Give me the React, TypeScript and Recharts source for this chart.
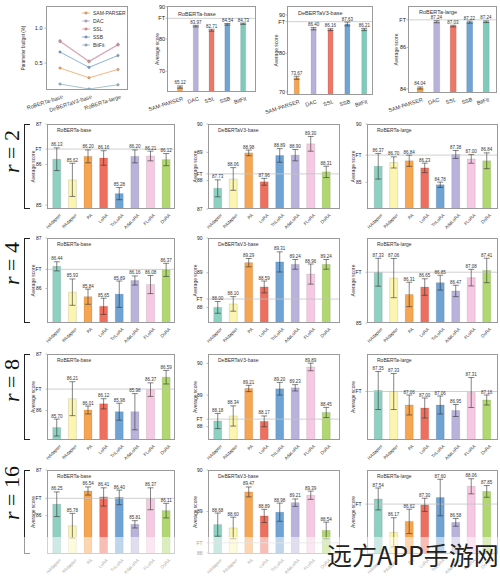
import {
  Bar, Cell, ComposedChart, ErrorBar, LabelList, Line, LineChart, ReferenceLine, XAxis, YAxis,
} from 'recharts'

const FONT = '"Liberation Sans", Arial, sans-serif'

// parameter budget (%)
const BACKBONES = ['RoBERTa-base', 'DeBERTaV3-base', 'RoBERTa-large']
const BUDGET_METHODS = ['SAM-PARSER', 'DAC', 'SSL', 'SSB', 'BitFit']
const BUDGET_COLORS = ['#f3a35a', '#b9a6d6', '#ee8f8f', '#6f9fd0', '#93b4c4']
const budgetSamParser = [0.43, 0.29, 0.41]
const budgetDac = [0.82, 0.53, 0.77]
const budgetSsl = [0.81, 0.52, 0.76]
const budgetSsb = [0.66, 0.44, 0.61]
const budgetBitFit = [0.20, 0.13, 0.19]

// top row bar panels
const TOP_COLORS = ['#f5a54f', '#b8b1db', '#ee7868', '#70a4d4', '#7fcbbb']
const topRobertaBase = [65.12, 83.97, 82.71, 84.54, 84.73]
const topRobertaBaseErr = [0.35, 0.25, 0.3, 0.25, 0.2]
const topDebertaBase = [73.67, 86.40, 86.16, 87.63, 86.21]
const topDebertaBaseErr = [0.4, 0.3, 0.25, 0.5, 0.3]
const topRobertaLarge = [84.04, 87.24, 87.03, 87.22, 87.24]
const topRobertaLargeErr = [0.05, 0.05, 0.04, 0.05, 0.04]

const FT_RB = 86.38
const FT_DB = 88.24
const FT_RL = 87.33

// rank rows
const METHODS = ['HAdapter', 'PAdapter', 'PA', 'LoRA', 'TriLoRA', 'AdaLoRA', 'FLoRA', 'DoRA']
const METHOD_COLORS = ['#8ed1c2', '#fbf5b0', '#f6a550', '#ef6f5e', '#6fa3d4', '#b9b3dc', '#f6c8e1', '#b0d86e']

const r2RobertaBase = [86.13, 85.62, 86.20, 86.16, 85.28, 86.20, 86.21, 86.12]
const r2RobertaBaseErr = [0.28, 0.41, 0.16, 0.18, 0.15, 0.16, 0.12, 0.15]
const r2DebertaBase = [87.73, 88.06, 88.98, 87.96, 88.89, 88.90, 89.30, 88.31]
const r2DebertaBaseErr = [0.3, 0.4, 0.1, 0.12, 0.24, 0.2, 0.26, 0.2]
const r2RobertaLarge = [86.37, 86.70, 86.84, 86.23, 84.78, 87.38, 87.00, 86.84]
const r2RobertaLargeErr = [1.1, 0.48, 0.48, 0.41, 0.23, 0.34, 0.37, 0.68]

const r4RobertaBase = [86.44, 85.93, 85.84, 85.65, 85.89, 86.16, 86.08, 86.37]
const r4RobertaBaseErr = [0.09, 0.26, 0.15, 0.16, 0.26, 0.09, 0.18, 0.13]
const r4DebertaBase = [88.00, 88.10, 89.29, 88.59, 89.31, 89.24, 88.96, 89.24]
const r4DebertaBaseErr = [0.17, 0.21, 0.12, 0.17, 0.29, 0.14, 0.29, 0.14]
const r4RobertaLarge = [87.33, 87.06, 86.31, 86.65, 86.85, 86.47, 87.08, 87.41]
const r4RobertaLargeErr = [0.64, 0.9, 0.56, 0.38, 0.34, 0.26, 0.38, 0.56]

const r8RobertaBase = [85.70, 86.21, 86.01, 86.12, 85.98, 85.98, 86.37, 86.59]
const r8RobertaBaseErr = [0.15, 0.30, 0.07, 0.09, 0.15, 0.32, 0.12, 0.12]
const r8DebertaBase = [88.18, 88.34, 89.21, 88.17, 89.20, 89.23, 89.89, 88.45]
const r8DebertaBaseErr = [0.24, 0.32, 0.10, 0.17, 0.20, 0.10, 0.12, 0.16]
const r8RobertaLarge = [87.35, 87.33, 87.06, 87.00, 87.06, 86.95, 87.31, 87.16]
const r8RobertaLargeErr = [0.38, 0.36, 0.20, 0.20, 0.18, 0.12, 0.30, 0.10]

const r16RobertaBase = [86.25, 85.78, 86.54, 86.41, 86.40, 85.81, 86.37, 86.11]
const r16RobertaBaseErr = [0.27, 0.27, 0.09, 0.20, 0.16, 0.08, 0.24, 0.16]
const r16DebertaBase = [88.68, 88.60, 89.47, 88.89, 88.98, 89.21, 89.39, 88.54]
const r16DebertaBaseErr = [0.28, 0.26, 0.12, 0.16, 0.22, 0.09, 0.10, 0.20]
const r16RobertaLarge = [87.54, 86.17, 86.62, 87.30, 87.60, 86.58, 88.06, 87.85]
const r16RobertaLargeErr = [0.45, 0.6, 0.5, 0.27, 0.75, 0.16, 0.31, 0.24]

const L = 40
const B = 32
const T = 6

function RotTick({ x, y, payload, angle, fs }: any) {
  return (
    <text x={x + 2} y={y} dy={fs * 0.8} transform={`rotate(${-angle} ${x + 2} ${y})`}
      textAnchor="end" fontSize={fs} fill="#333" fontFamily={FONT}>
      {payload.value}
    </text>
  )
}

function BarPanel(p: any) {
  const data = p.names.map((name: string, i: number) => ({ name, v: p.values[i], e: p.errs[i], top: p.values[i] + p.errs[i] }))
  const ticks = [...p.ticks, p.ft].sort((a, b) => a - b)
  return (
    <div style={{ position: 'absolute', left: p.x - L, top: p.y - T }}>
      <ComposedChart width={p.w + L + 2} height={p.h + T + B} data={data}
        margin={{ top: T, right: 2, bottom: 0, left: 0 }} barCategoryGap={p.gap}>
        <ReferenceLine y={p.ft} stroke="#c4c4c4" strokeWidth={0.8} />
        <XAxis dataKey="name" interval={0} height={B} tickSize={2} tickLine={false} axisLine={false}
          padding={{ left: p.pad[0], right: p.pad[1] }} tick={<RotTick angle={p.angle} fs={p.xFont} />} />
        <YAxis width={L} domain={p.domain} allowDataOverflow ticks={ticks} interval={0}
          tickFormatter={(v: number) => (v === p.ft ? 'FT' : String(v))}
          tick={{ fontSize: p.yFont, fill: '#222', fontFamily: FONT }} tickSize={1.5} tickMargin={p.tickMargin}
          axisLine={false} tickLine={{ stroke: '#777', strokeWidth: 0.5 }}
          label={{ value: 'Average score', angle: -90, position: 'insideLeft', offset: L - p.yLabelGap,
            fontSize: 5, fill: '#333', fontFamily: FONT, style: { textAnchor: 'middle' } }} />
        <Bar dataKey="v" isAnimationActive={false} stroke="rgba(0,0,0,0.25)" strokeWidth={0.4}>
          {data.map((d: any, i: number) => <Cell key={d.name} fill={p.colors[i]} />)}
          <ErrorBar dataKey="e" width={3} stroke="#333" strokeWidth={0.6} direction="y" />
        </Bar>
        <Line dataKey="top" stroke="none" dot={false} activeDot={false} isAnimationActive={false}>
          <LabelList dataKey="v" position="top" offset={1.5} fontSize={4.5} fill="#333" fontFamily={FONT}
            formatter={(v: any) => Number(v).toFixed(2)} />
        </Line>
      </ComposedChart>
      <div style={{ position: 'absolute', left: L, top: T, width: p.w, height: p.h, border: '0.8px solid #9a9a9a', boxSizing: 'border-box', pointerEvents: 'none' }} />
      <div style={{ position: 'absolute', left: L + p.titleDx, top: T + p.titleDy, fontSize: p.titleFs, fontFamily: FONT, color: '#333', whiteSpace: 'nowrap' }}>{p.title}</div>
    </div>
  )
}

function BudgetPanel() {
  const data = BACKBONES.map((name, i) => ({
    name,
    'SAM-PARSER': budgetSamParser[i],
    DAC: budgetDac[i],
    SSL: budgetSsl[i],
    SSB: budgetSsb[i],
    BitFit: budgetBitFit[i],
  }))
  const x = 46, y = 6, w = 82, h = 84, LL = 30
  return (
    <div style={{ position: 'absolute', left: x - LL, top: y - T }}>
      <LineChart width={w + LL + 2} height={h + T + B} data={data} margin={{ top: T, right: 2, bottom: 0, left: 0 }}>
        <XAxis dataKey="name" scale="point" interval={0} height={B} tickSize={2} tickLine={false} axisLine={false}
          padding={{ left: 14, right: 10 }} tick={<RotTick angle={18} fs={5.5} />} />
        <YAxis width={LL} domain={[0.115, 1.32]} allowDataOverflow ticks={[0.5, 1.0]}
          tickFormatter={(v: number) => v.toFixed(1)} tick={{ fontSize: 5.5, fill: '#222', fontFamily: FONT }}
          tickSize={1.5} tickMargin={2} axisLine={false} tickLine={{ stroke: '#777', strokeWidth: 0.5 }}
          label={{ value: 'Parameter budget (%)', angle: -90, position: 'insideLeft', offset: 7,
            fontSize: 4.5, fill: '#333', fontFamily: FONT, style: { textAnchor: 'middle' } }} />
        {BUDGET_METHODS.map((m, i) => (
          <Line key={m} dataKey={m} stroke={BUDGET_COLORS[i]} strokeWidth={0.8} isAnimationActive={false}
            dot={{ r: 1.3, fill: BUDGET_COLORS[i], stroke: '#777', strokeWidth: 0.3 }} activeDot={false} />
        ))}
      </LineChart>
      <div style={{ position: 'absolute', left: LL, top: T, width: w, height: h, border: '0.8px solid #9a9a9a', boxSizing: 'border-box' }} />
      <div style={{ position: 'absolute', left: LL + 36, top: T + 3, fontFamily: FONT, fontSize: 5, color: '#333' }}>
        {BUDGET_METHODS.map((m, i) => (
          <div key={m} style={{ display: 'flex', alignItems: 'center', height: 8 }}>
            <svg width={8} height={4} style={{ marginRight: 3 }}>
              <line x1={0} y1={2} x2={8} y2={2} stroke={BUDGET_COLORS[i]} strokeWidth={0.8} />
              <circle cx={4} cy={2} r={1.3} fill={BUDGET_COLORS[i]} stroke="#777" strokeWidth={0.3} />
            </svg>
            {m}
          </div>
        ))}
      </div>
    </div>
  )
}

const TOP_PANELS = [
  { x: 167, y: 6, w: 89, h: 86, values: topRobertaBase, errs: topRobertaBaseErr, domain: [63.6, 90.2], ticks: [70, 80, 90], ft: FT_RB, title: 'RoBERTa-base', pad: [5.3, 4.8], gap: '33%', yLabelGap: 10, tickMargin: 0.5, titleDy: 5 },
  { x: 287, y: 6, w: 86, h: 89, values: topDebertaBase, errs: topDebertaBaseErr, domain: [69.2, 92.3], ticks: [70, 80, 90], ft: FT_DB, title: 'DeBERTaV3-base', pad: [1.3, 0.3], gap: '35%', yLabelGap: 10.5, tickMargin: 0.5, titleDy: 4 },
  { x: 408, y: 6, w: 89, h: 87, values: topRobertaLarge, errs: topRobertaLargeErr, domain: [83.8, 88], ticks: [84, 86], ft: FT_RL, title: 'RoBERTa-large', pad: [3.75, 2.75], gap: '33%', yLabelGap: 12, tickMargin: 0.5, titleDy: 2.5 },
]

const COLS = [
  { x: 47, w: 128, pad: [2, 1], title: 'RoBERTa-base', ft: FT_RB, yLabelGap: 14 },
  { x: 208, w: 132, pad: [2, 6], title: 'DeBERTaV3-base', ft: FT_DB, yLabelGap: 13 },
  { x: 367, w: 131, pad: [3.5, 3.5], title: 'RoBERTa-large', ft: FT_RL, yLabelGap: 14 },
]

const ROWS = [
  { r: '2', y: 124, h: 85, labelY: 152,
    panels: [
      { values: r2RobertaBase, errs: r2RobertaBaseErr, domain: [84.9, 87], ticks: [85, 86, 87] },
      { values: r2DebertaBase, errs: r2DebertaBaseErr, domain: [87, 90], ticks: [87, 88, 89, 90] },
      { values: r2RobertaLarge, errs: r2RobertaLargeErr, domain: [82.7, 90], ticks: [85, 90] },
    ] },
  { r: '4', y: 238, h: 85, labelY: 264,
    panels: [
      { values: r4RobertaBase, errs: r4RobertaBaseErr, domain: [85.32, 87], ticks: [86, 87] },
      { values: r4DebertaBase, errs: r4DebertaBaseErr, domain: [87.55, 90], ticks: [88, 89, 90] },
      { values: r4RobertaLarge, errs: r4RobertaLargeErr, domain: [85, 88.9], ticks: [85] },
    ] },
  { r: '8', y: 354, h: 86, labelY: 381,
    panels: [
      { values: r8RobertaBase, errs: r8RobertaBaseErr, domain: [85.48, 87], ticks: [86, 87] },
      { values: r8DebertaBase, errs: r8DebertaBaseErr, domain: [87.58, 90.3], ticks: [88, 89, 90] },
      { values: r8RobertaLarge, errs: r8RobertaLargeErr, domain: [86.36, 88.08], ticks: [] },
    ] },
  { r: '16', y: 470, h: 84, labelY: 493,
    panels: [
      { values: r16RobertaBase, errs: r16RobertaBaseErr, domain: [85.16, 87], ticks: [86, 87] },
      { values: r16DebertaBase, errs: r16DebertaBaseErr, domain: [87.97, 90], ticks: [88, 89, 90] },
      { values: r16RobertaLarge, errs: r16RobertaLargeErr, domain: [85.28, 88.73], ticks: [] },
    ] },
]

export default function App() {
  return (
    <div style={{ position: 'absolute', left: 0, top: 0, width: 500, height: 577, background: '#fff', overflow: 'hidden' }}>
      <BudgetPanel />
      {TOP_PANELS.map(p => (
        <BarPanel key={p.title} {...p} names={BUDGET_METHODS} colors={TOP_COLORS} angle={18} xFont={5.5}
          yFont={5.5} titleDx={11} titleFs={5.5} />
      ))}
      {ROWS.map(row => (
        <div key={row.r}>
          <div style={{ position: 'absolute', left: 0, top: row.labelY - 30, width: 24, height: 60, writingMode: 'vertical-rl', transform: 'rotate(180deg)', textAlign: 'center', lineHeight: '24px', fontFamily: '"Liberation Serif", "DejaVu Serif", serif', fontSize: 22, whiteSpace: 'nowrap', color: '#111' }}>
            <i>r</i>&nbsp;=&nbsp;{row.r}
          </div>
          <div style={{ position: 'absolute', left: 24, top: row.y, width: 6, height: row.h, borderLeft: '1px solid #222', borderTop: '1px solid #222', borderBottom: '1px solid #222', boxSizing: 'border-box' }} />
          {row.panels.map((pn, ci) => (
            <BarPanel key={ci} {...COLS[ci]} {...pn} y={row.y} h={row.h} names={METHODS} colors={METHOD_COLORS}
              gap="24%" angle={45} xFont={4.5} yFont={5} tickMargin={4} titleDx={10} titleDy={2.5} titleFs={5} />
          ))}
        </div>
      ))}
      <div style={{ position: 'absolute', left: 0, top: 537, width: 500, height: 40, background: 'rgba(255,255,255,0.55)' }} />
      <div style={{ position: 'absolute', left: 327, top: 536, fontFamily: '"Noto Sans CJK SC", sans-serif', fontSize: 25, color: '#222', whiteSpace: 'nowrap', lineHeight: '36px' }}>
        远方APP手游网
      </div>
    </div>
  )
}
